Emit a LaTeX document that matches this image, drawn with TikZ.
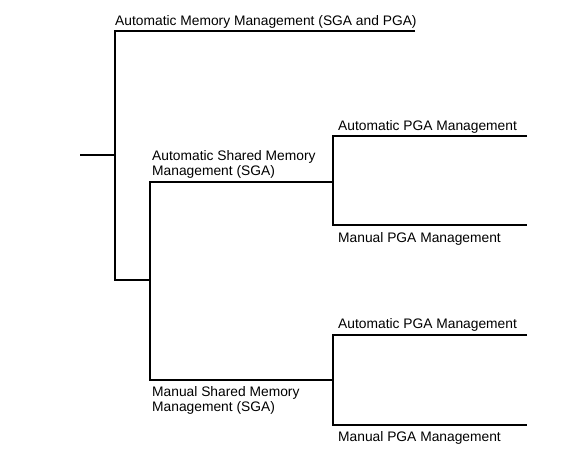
\documentclass[tikz,border=0pt]{standalone}
\usepackage{fontspec}
\setmainfont{Liberation Sans}
\begin{document}
\begin{tikzpicture}[x=1pt,y=-1pt,
  branch/.style={draw=black,line width=1.6pt,line join=miter},
  lbl/.style={anchor=base west,inner sep=0pt,align=left,
    font=\fontsize{13.8}{15}\selectfont,text=black}]
\useasboundingbox (0,0) rectangle (584,464);
% junction coordinates
\coordinate (root) at (80,155);
\coordinate (rootj) at (115,155);
\coordinate (ammEnd) at (415,31);
\coordinate (v1bot) at (115,280);
\coordinate (j2) at (150,280);
\coordinate (asmEnd) at (333,182);
\coordinate (v2bot) at (150,380);
\coordinate (msmEnd) at (333,380);
\coordinate (apga1) at (527,136);
\coordinate (p1bot) at (333,225);
\coordinate (mpga1) at (527,225);
\coordinate (apga2) at (527,335);
\coordinate (p2bot) at (333,425);
\coordinate (mpga2) at (527,425);
% connectors
\draw[branch] (root) -- (rootj);
\draw[branch] (ammEnd) -| (v1bot) -- (j2);
\draw[branch] (asmEnd) -| (v2bot) -- (msmEnd);
\draw[branch] (apga1) -| (p1bot) -- (mpga1);
\draw[branch] (apga2) -| (p2bot) -- (mpga2);
% labels (multi-line: base = last line's baseline)
\node[lbl] (tamm) at (115,25) {Automatic Memory Management (SGA and PGA)};
\node[lbl] (tasm) at (152,175) {Automatic Shared Memory\\Management (SGA)};
\node[lbl] (tmsm) at (152,411) {Manual Shared Memory\\Management (SGA)};
\node[lbl] (tapga1) at (338,130) {Automatic PGA Management};
\node[lbl] (tmpga1) at (338,242) {Manual PGA Management};
\node[lbl] (tapga2) at (338,328) {Automatic PGA Management};
\node[lbl] (tmpga2) at (338,441) {Manual PGA Management};
\end{tikzpicture}
\end{document}
